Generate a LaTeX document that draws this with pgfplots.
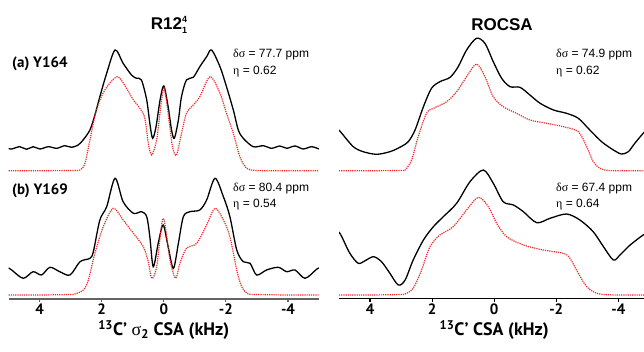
\documentclass[border=0pt]{standalone}
\usepackage{pgfplots}
\pgfplotsset{compat=1.18}
\usepackage{fontspec}
\setmainfont{Liberation Sans}
\newfontfamily\myr{PT Sans}
\newfontfamily\grk{Liberation Serif}
\definecolor{dred}{RGB}{235,40,40}
\definecolor{axgray}{RGB}{100,100,100}
\newcommand{\tl}[1]{\hbox{\myr\bfseries\fontsize{15}{15}\selectfont #1}}
\begin{document}
\begin{tikzpicture}[x=1pt,y=1pt]
\clip (0,0) rectangle (644,351);
\pgfplotsset{
 panel/.style={scale only axis, width=310.4pt, height=268.7pt,
   xmin=-5, xmax=5, x dir=reverse, ymin=-298.7, ymax=-30,
   axis y line=none, axis x line*=bottom, axis line style={-},
   xtick={4,2,0,-2,-4}, xticklabels={\tl{4},\tl{2},\tl{0},\tl{-2},\tl{-4}},
   tick align=outside, major tick length=3pt, minor tick num=0,
   xticklabel style={inner sep=2pt},
   xlabel style={font=\myr\bfseries\fontsize{18}{18}\selectfont},
   clip=true, enlargelimits=false},
 blk/.style={black, line width=1.3pt, smooth, tension=0.5, mark=none},
 rd/.style={dred, line width=1.2pt, densely dotted, smooth, tension=0.5, mark=none}
}
% ---------- left panel ----------
\begin{axis}[panel, at={(8.6pt,52.3pt)}, anchor=south west,
  x axis line style={axgray, line width=1.8pt}, x tick style={axgray, line width=1.2pt},
  xlabel={\textsuperscript{13}C’ {\grk\mdseries σ}\textsubscript{2} CSA (kHz)}]
\addplot[blk] coordinates {(5,-148.5)(4.90,-149)(4.64,-146.7)(4.42,-149.3)(4.21,-146.7)(3.99,-149)(3.72,-146.7)(3.45,-148.3)(3.19,-145.7)(2.97,-147.3)(2.76,-145)(2.60,-140)(2.38,-130)(2.22,-115)(2.06,-96.7)(1.84,-73.3)(1.57,-50)(1.31,-63.3)(1.04,-75)(0.88,-78.3)(0.72,-80)(0.55,-100)(0.45,-123.3)(0.36,-138.3)(0.25,-126.7)(0.12,-100)(0.0,-86)(-0.14,-106.7)(-0.25,-130)(-0.34,-138.3)(-0.47,-120)(-0.57,-96.7)(-0.73,-80)(-0.95,-77.3)(-1.16,-66.7)(-1.38,-56.7)(-1.54,-50)(-1.81,-66.7)(-2.02,-86.7)(-2.24,-110)(-2.40,-130)(-2.56,-138.3)(-2.88,-146.7)(-3.21,-145.7)(-3.47,-148.3)(-3.74,-146)(-3.96,-148.3)(-4.23,-146)(-4.49,-149)(-4.76,-146.7)(-5,-149)};
\addplot[rd] coordinates {(5,-170.7)(4,-170.7)(3,-170.5)(2.70,-170)(2.54,-163.3)(2.38,-140)(2.17,-110)(1.90,-90)(1.50,-76.7)(1.20,-88.3)(0.98,-100)(0.77,-108.3)(0.61,-118.3)(0.50,-143.3)(0.39,-155)(0.23,-140)(0.10,-106.7)(-0.01,-88.3)(-0.14,-113.3)(-0.28,-146.7)(-0.41,-155)(-0.57,-133.3)(-0.73,-113.3)(-0.95,-105)(-1.16,-96.7)(-1.49,-76.7)(-1.81,-93.3)(-2.02,-113.3)(-2.24,-133.3)(-2.45,-156.7)(-2.67,-168.3)(-3,-170.5)(-4,-170.7)(-5,-170.7)};
\addplot[blk] coordinates {(5,-268)(4.90,-270)(4.53,-278.3)(4.21,-271.7)(3.94,-275)(3.67,-267.3)(3.35,-271.7)(3.02,-275)(2.70,-261.7)(2.38,-258.3)(2.27,-251.7)(2.06,-220)(1.84,-206.7)(1.57,-178.3)(1.31,-201.7)(0.98,-213.3)(0.72,-211.7)(0.55,-216.7)(0.45,-236.7)(0.34,-266.7)(0.18,-243.3)(0.02,-225)(-0.14,-246.7)(-0.31,-268.3)(-0.47,-243.3)(-0.63,-216.7)(-0.84,-211.7)(-1.16,-210)(-1.38,-200)(-1.65,-178.3)(-1.92,-196.7)(-2.13,-216.7)(-2.35,-250)(-2.56,-261.7)(-2.78,-263.3)(-2.99,-275)(-3.31,-270)(-3.69,-267.3)(-3.96,-271.7)(-4.23,-270)(-4.55,-278.3)(-4.92,-269.3)(-5,-268)};
\addplot[rd] coordinates {(5,-295)(4,-295)(3,-294.5)(2.87,-294)(2.59,-290)(2.43,-280)(2.22,-253.3)(1.95,-226.7)(1.63,-208.3)(1.31,-220)(0.98,-233.3)(0.66,-246.7)(0.50,-261.7)(0.39,-278.3)(0.23,-266.7)(0.02,-218.3)(-0.20,-260)(-0.38,-278.3)(-0.52,-263.3)(-0.73,-248.3)(-1.06,-243.3)(-1.38,-225)(-1.65,-208.3)(-1.92,-220)(-2.13,-236.7)(-2.35,-270)(-2.51,-286.7)(-2.72,-294)(-3,-294.5)(-4,-295)(-5,-295)};
\end{axis}
% ---------- right panel ----------
\begin{axis}[panel, at={(339pt,52.3pt)}, anchor=south west,
  x axis line style={black, line width=1.2pt}, x tick style={black, line width=1.2pt},
  xlabel={\textsuperscript{13}C’ CSA (kHz)}]
\addplot[blk] coordinates {(5,-130)(4.91,-133.3)(4.54,-146.7)(4.22,-151.7)(3.79,-154.3)(3.36,-151.7)(3.04,-147.3)(2.77,-141.7)(2.55,-130)(2.28,-106.7)(2.02,-88.3)(1.75,-81.7)(1.42,-77.3)(1.16,-66.7)(0.89,-50)(0.57,-38.3)(0.30,-43.3)(0.03,-61.7)(-0.24,-78.3)(-0.51,-86.7)(-0.83,-87.3)(-1.15,-95)(-1.48,-103.3)(-1.91,-110)(-2.33,-113.3)(-2.71,-118.3)(-3.08,-130)(-3.46,-141.7)(-3.84,-150)(-4.10,-154)(-4.32,-151.7)(-4.53,-143.3)(-4.80,-133.3)(-5,-127)};
\addplot[rd] coordinates {(5,-170.7)(4,-170.7)(3,-170.5)(2.87,-170)(2.66,-160)(2.45,-136.7)(2.18,-113.3)(1.96,-108.3)(1.53,-101.7)(1.21,-91.7)(0.89,-76.7)(0.57,-64)(0.30,-76.7)(0.03,-96.7)(-0.29,-106.7)(-0.72,-113.3)(-1.15,-120)(-1.69,-123.3)(-2.23,-126.7)(-2.71,-131.7)(-2.98,-146.7)(-3.19,-161.7)(-3.41,-168.3)(-3.7,-170.5)(-4.5,-170.7)(-5,-170.7)};
\addplot[blk] coordinates {(5,-232)(4.91,-236.7)(4.65,-253.3)(4.38,-263.3)(4.16,-260.7)(3.89,-256.7)(3.63,-261.7)(3.36,-273.3)(3.09,-285)(2.87,-280)(2.61,-260)(2.28,-240)(1.96,-226.7)(1.64,-216.7)(1.21,-203.3)(0.78,-181.7)(0.35,-170)(0.03,-183.3)(-0.29,-201.7)(-0.62,-205)(-0.94,-211.7)(-1.37,-222.7)(-1.80,-218.3)(-2.33,-214)(-2.76,-220)(-3.19,-231.7)(-3.52,-246.7)(-3.84,-260)(-4.05,-255)(-4.38,-245)(-4.80,-235)(-5,-232)};
\addplot[rd] coordinates {(5,-295)(4,-295)(3,-294.5)(2.87,-294)(2.61,-288.3)(2.34,-270)(2.07,-246.7)(1.75,-235)(1.32,-226.7)(0.89,-210)(0.51,-197.3)(0.19,-206.7)(-0.08,-223.3)(-0.40,-236.7)(-0.94,-245)(-1.58,-250)(-2.23,-253.3)(-2.44,-258.3)(-2.71,-273.3)(-2.98,-286.7)(-3.30,-293.3)(-3.7,-294.8)(-4.5,-295)(-5,-295)};
\end{axis}
% ---------- texts ----------
\node[font=\bfseries\fontsize{17}{17}\selectfont] at (169,326) {R12\rlap{\raisebox{-4pt}{\fontsize{9}{9}\selectfont 1}}\raisebox{7pt}{\fontsize{9}{9}\selectfont 4}};
\node[font=\bfseries\fontsize{17}{17}\selectfont] at (502,326) {ROCSA};
\node[anchor=west, font=\myr\bfseries\fontsize{15}{15}\selectfont, inner sep=0] at (12,287) {(a) Y164};
\node[anchor=west, font=\myr\bfseries\fontsize{15}{15}\selectfont, inner sep=0] at (12,160.3) {(b) Y169};
\begin{scope}[every node/.style={anchor=west, inner sep=0, font=\fontsize{12}{12}\selectfont}]
\node at (233,296) {{\grk δσ} = 77.7 ppm};
\node at (233,279) {{\grk η} = 0.62};
\node at (233,162.7) {{\grk δσ} = 80.4 ppm};
\node at (233,146) {{\grk η} = 0.54};
\node at (556,296) {{\grk δσ} = 74.9 ppm};
\node at (556,279) {{\grk η} = 0.62};
\node at (556,162.7) {{\grk δσ} = 67.4 ppm};
\node at (556,146) {{\grk η} = 0.64};
\end{scope}
\end{tikzpicture}
\end{document}
